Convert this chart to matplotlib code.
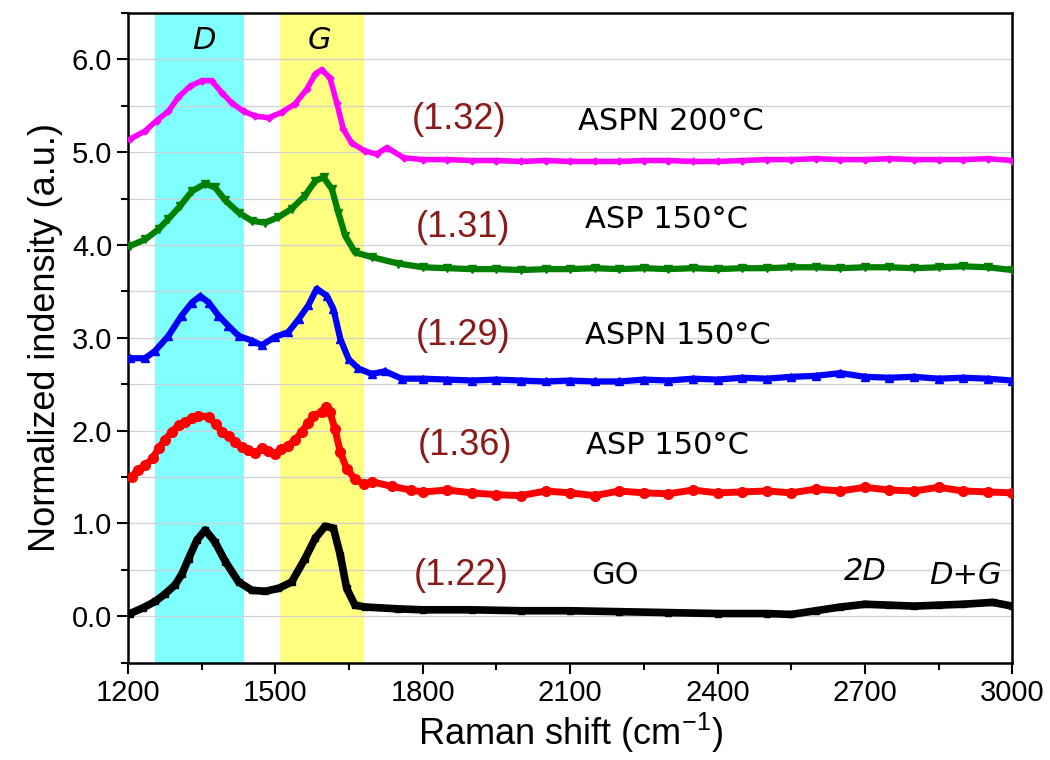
import numpy as np
import matplotlib
matplotlib.use("Agg")
import matplotlib.pyplot as plt
from matplotlib.ticker import MultipleLocator, FormatStrFormatter

plt.rcParams.update({"font.family": "Liberation Sans", "font.size": 20})

# Raman spectra (already offset), sampled along the shift axis
x_go = [1204, 1230, 1255, 1275, 1296, 1310, 1323, 1340, 1357, 1377, 1398, 1425, 1452, 1479,
        1506, 1533, 1560, 1581, 1601, 1618, 1632, 1645, 1662, 1683, 1750, 1800, 1900, 2000,
        2100, 2200, 2300, 2400, 2500, 2550, 2600, 2650, 2700, 2750, 2800, 2850, 2900, 2960, 3000]
y_go = [0.03, 0.09, 0.16, 0.24, 0.34, 0.46, 0.62, 0.82, 0.93, 0.80, 0.59, 0.37, 0.28, 0.27,
        0.30, 0.37, 0.62, 0.84, 0.97, 0.95, 0.66, 0.30, 0.12, 0.10, 0.08, 0.07, 0.07, 0.06,
        0.06, 0.05, 0.04, 0.03, 0.03, 0.02, 0.06, 0.10, 0.13, 0.12, 0.11, 0.12, 0.13, 0.15, 0.11]

x_asp = [1207, 1220, 1235, 1250, 1262, 1275, 1289, 1303, 1316, 1330, 1343, 1364, 1378, 1391,
         1405, 1418, 1432, 1445, 1458, 1472, 1485, 1499, 1512, 1526, 1540, 1554, 1566, 1577,
         1594, 1603, 1611, 1621, 1632, 1645, 1662, 1680, 1696, 1737, 1775, 1800, 1850, 1900,
         1950, 2000, 2050, 2100, 2150, 2200, 2250, 2300, 2350, 2400, 2450, 2500, 2550, 2600,
         2650, 2700, 2750, 2800, 2850, 2900, 2950, 3000]
y_asp = [1.50, 1.58, 1.63, 1.70, 1.81, 1.90, 1.99, 2.06, 2.09, 2.14, 2.16, 2.15, 2.07, 1.99,
         1.94, 1.88, 1.82, 1.79, 1.76, 1.81, 1.78, 1.75, 1.80, 1.84, 1.90, 1.99, 2.08, 2.16,
         2.20, 2.26, 2.20, 2.02, 1.77, 1.59, 1.48, 1.42, 1.45, 1.40, 1.36, 1.34, 1.36, 1.33,
         1.31, 1.30, 1.35, 1.33, 1.30, 1.35, 1.33, 1.32, 1.36, 1.33, 1.34, 1.35, 1.33, 1.37,
         1.35, 1.39, 1.36, 1.35, 1.39, 1.35, 1.34, 1.33]

x_aspn150 = [1204, 1235, 1255, 1282, 1309, 1330, 1347, 1364, 1384, 1404, 1425, 1452, 1472, 1499,
             1526, 1547, 1567, 1584, 1605, 1618, 1632, 1649, 1669, 1696, 1723, 1757, 1800, 1850,
             1900, 1950, 2000, 2050, 2100, 2150, 2200, 2250, 2300, 2350, 2400, 2450, 2500, 2550,
             2600, 2650, 2700, 2750, 2800, 2850, 2900, 2950, 3000]
y_aspn150 = [2.78, 2.78, 2.86, 3.02, 3.24, 3.38, 3.45, 3.38, 3.24, 3.13, 3.02, 2.97, 2.92, 3.01,
             3.06, 3.20, 3.35, 3.53, 3.45, 3.31, 2.99, 2.77, 2.67, 2.61, 2.64, 2.56, 2.56, 2.55,
             2.54, 2.55, 2.54, 2.53, 2.54, 2.53, 2.53, 2.55, 2.54, 2.56, 2.55, 2.57, 2.56, 2.58,
             2.59, 2.62, 2.58, 2.57, 2.58, 2.56, 2.57, 2.56, 2.54]

x_asp150 = [1204, 1235, 1262, 1282, 1306, 1330, 1357, 1377, 1398, 1425, 1452, 1479, 1506, 1533,
            1560, 1581, 1598, 1615, 1628, 1642, 1662, 1696, 1750, 1800, 1850, 1900, 1950, 2000,
            2050, 2100, 2150, 2200, 2250, 2300, 2350, 2400, 2450, 2500, 2550, 2600, 2650, 2700,
            2750, 2800, 2850, 2900, 2950, 3000]
y_asp150 = [3.99, 4.06, 4.17, 4.28, 4.42, 4.58, 4.66, 4.62, 4.48, 4.35, 4.26, 4.24, 4.30, 4.39,
            4.53, 4.69, 4.73, 4.60, 4.35, 4.10, 3.92, 3.87, 3.80, 3.76, 3.75, 3.74, 3.74, 3.73,
            3.74, 3.74, 3.75, 3.74, 3.75, 3.74, 3.75, 3.74, 3.75, 3.75, 3.76, 3.76, 3.75, 3.76,
            3.76, 3.75, 3.76, 3.77, 3.76, 3.73]

x_aspn200 = [1204, 1235, 1258, 1282, 1302, 1326, 1350, 1370, 1391, 1411, 1435, 1459, 1486, 1513,
             1540, 1564, 1581, 1594, 1611, 1625, 1638, 1655, 1683, 1706, 1727, 1761, 1800, 1850,
             1900, 1950, 2000, 2050, 2100, 2150, 2200, 2250, 2300, 2350, 2400, 2450, 2500, 2550,
             2600, 2650, 2700, 2750, 2800, 2850, 2900, 2950, 3000]
y_aspn200 = [5.14, 5.23, 5.34, 5.44, 5.59, 5.71, 5.77, 5.77, 5.64, 5.53, 5.44, 5.39, 5.37, 5.43,
             5.52, 5.68, 5.84, 5.89, 5.80, 5.53, 5.25, 5.10, 5.01, 4.98, 5.05, 4.94, 4.92, 4.92,
             4.91, 4.91, 4.90, 4.91, 4.90, 4.90, 4.90, 4.91, 4.91, 4.90, 4.90, 4.91, 4.92, 4.92,
             4.93, 4.92, 4.92, 4.93, 4.92, 4.92, 4.92, 4.93, 4.91]

samples = ["GO", "ASP 150°C", "ASPN 150°C", "ASP 150°C", "ASPN 200°C"]
sample_x = [2192, 2132, 2130, 2130, 2116]
sample_y = [0.44, 1.84, 3.02, 4.27, 5.33]
ratios = ["(1.22)", "(1.36)", "(1.29)", "(1.31)", "(1.32)"]
ratio_x = [1878, 1886, 1882, 1882, 1874]
ratio_y = [0.44, 1.84, 3.02, 4.19, 5.35]

fig, ax = plt.subplots(figsize=(10.5, 7.6), dpi=100)
fig.subplots_adjust(left=0.122, right=0.964, top=0.983, bottom=0.128)

# D and G band regions
ax.axvspan(1255, 1435, color="#80FFFF", zorder=0, lw=0)
ax.axvspan(1510, 1680, color="#FFFF80", zorder=0, lw=0)

for yv in np.arange(-0.5, 6.51, 0.5):
    ax.axhline(yv, color="#d0d0d0", lw=0.9, zorder=1)

ax.plot(x_go, y_go, color="black", lw=5.5, marker="s", ms=4, zorder=3)
ax.plot(x_asp, y_asp, color="red", lw=5, marker="o", ms=7, zorder=3)
ax.plot(x_aspn150, y_aspn150, color="blue", lw=4.5, marker="^", ms=6, zorder=3)
ax.plot(x_asp150, y_asp150, color="green", lw=4.5, marker="v", ms=6, zorder=3)
ax.plot(x_aspn200, y_aspn200, color="magenta", lw=4, marker="D", ms=3.5, zorder=3)

for r, xr, yr in zip(ratios, ratio_x, ratio_y):
    ax.text(xr, yr, r, color="#8B1A1A", fontsize=26, ha="center", va="center", zorder=4)
for s, xs, ys in zip(samples, sample_x, sample_y):
    ax.text(xs, ys, s, color="black", fontsize=22, ha="center" if s == "GO" else "left",
            va="center", family="DejaVu Sans", zorder=4)

peak_kw = dict(fontsize=22, style="italic", ha="center", va="center", family="DejaVu Sans")
ax.text(1355, 6.2, "D", **peak_kw)
ax.text(1590, 6.2, "G", **peak_kw)
ax.text(2700, 0.48, "2D", **peak_kw)
ax.text(2905, 0.44, "D+G", **peak_kw)

ax.set_xlim(1200, 3000)
ax.set_ylim(-0.5, 6.5)
ax.xaxis.set_major_locator(MultipleLocator(300))
ax.xaxis.set_minor_locator(MultipleLocator(150))
ax.yaxis.set_major_locator(MultipleLocator(1.0))
ax.yaxis.set_minor_locator(MultipleLocator(0.5))
ax.yaxis.set_major_formatter(FormatStrFormatter("%.1f"))
ax.tick_params(which="major", direction="out", length=8, width=1.5, labelsize=21)
ax.tick_params(which="minor", direction="out", length=5, width=1.5)
for sp in ax.spines.values():
    sp.set_linewidth(1.8)

ax.set_xlabel("Raman shift (cm$^{\\mathregular{-1}}$)", fontsize=26, labelpad=3)
ax.set_ylabel("Normalized indensity (a.u.)", fontsize=26, labelpad=6)

fig.savefig("out.png", dpi=100)
